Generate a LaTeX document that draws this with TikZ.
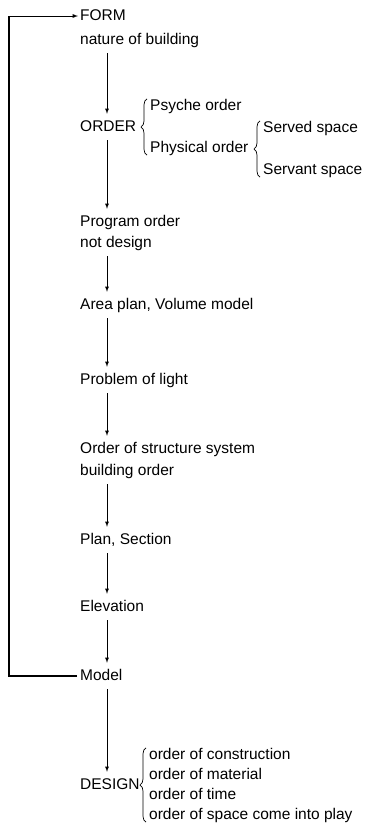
\documentclass[tikz,border=0pt]{standalone}
\usepackage{fontspec}
\setmainfont{Liberation Sans}
\usetikzlibrary{calc,decorations.pathreplacing}

\tikzset{
  txt/.style={anchor=west, inner sep=0pt, text height=11pt, text depth=3pt,
    font=\fontsize{15.5}{18}\selectfont},
  flow/.style={->, >=latex, line width=0.8pt, shorten <=6pt, shorten >=6pt},
  curly/.style={decorate, decoration={brace, amplitude=6pt}, line width=0.7pt}
}

\begin{document}
\begin{tikzpicture}[x=1pt, y=-1pt]
  \useasboundingbox (0,0) rectangle (365,823);

  \coordinate (rail) at (9,0);
  \coordinate (col) at (107,0);

  \node[txt] (form) at (80,16) {FORM};
  \node[txt] (nature) at (80,40) {nature of building};

  \node[txt] (order) at (80,127) {ORDER};
  \node[txt] (psyche) at (150,106) {Psyche order};
  \node[txt] (physical) at (150,148) {Physical order};
  \node[txt] (served) at (263,128) {Served space};
  \node[txt] (servant) at (263,170) {Servant space};

  \node[txt] (program) at (80,222) {Program order};
  \node[txt] (notdesign) at (80,243) {not design};

  \node[txt] (area) at (80,305) {Area plan, Volume model};

  \node[txt] (light) at (80,380) {Problem of light};

  \node[txt] (structure) at (80,449) {Order of structure system};
  \node[txt] (building) at (80,471) {building order};

  \node[txt] (plan) at (80,540) {Plan, Section};

  \node[txt] (elevation) at (80,607) {Elevation};

  \node[txt] (model) at (80,676) {Model};

  \node[txt] (design) at (80,785) {DESIGN};
  \node[txt] (constr) at (149,755) {order of construction};
  \node[txt] (material) at (149,775) {order of material};
  \node[txt] (time) at (149,795) {order of time};
  \node[txt] (space) at (149,815) {order of space come into play};

  % main column
  \draw[flow] (nature.south -| col) -- (order.north -| col);
  \draw[flow] (order.south -| col) -- (program.north -| col);
  \draw[flow] (notdesign.south -| col) -- (area.north -| col);
  \draw[flow] (area.south -| col) -- (light.north -| col);
  \draw[flow] (light.south -| col) -- (structure.north -| col);
  \draw[flow] (building.south -| col) -- (plan.north -| col);
  \draw[flow] (plan.south -| col) -- (elevation.north -| col);
  \draw[flow] (elevation.south -| col) -- (model.north -| col);
  \draw[flow] (model.south -| col) -- (design.north -| col);

  % back to form
  \draw[line width=1.3pt]
    ([xshift=-3pt]model.west) -- (model.west -| rail) -- (form.west -| rail);
  \draw[->, >=latex, line width=0.9pt]
    (form.west -| rail) -- ([xshift=-2pt]form.west);

  % braces
  \draw[curly] ([xshift=-3pt]physical.south west) -- ([xshift=-3pt]psyche.north west);
  \draw[curly] ([xshift=-3pt]servant.south west) -- ([xshift=-3pt]served.north west);
  \draw[curly] ([xshift=-3pt]space.south west) -- ([xshift=-3pt]constr.north west);
\end{tikzpicture}
\end{document}
